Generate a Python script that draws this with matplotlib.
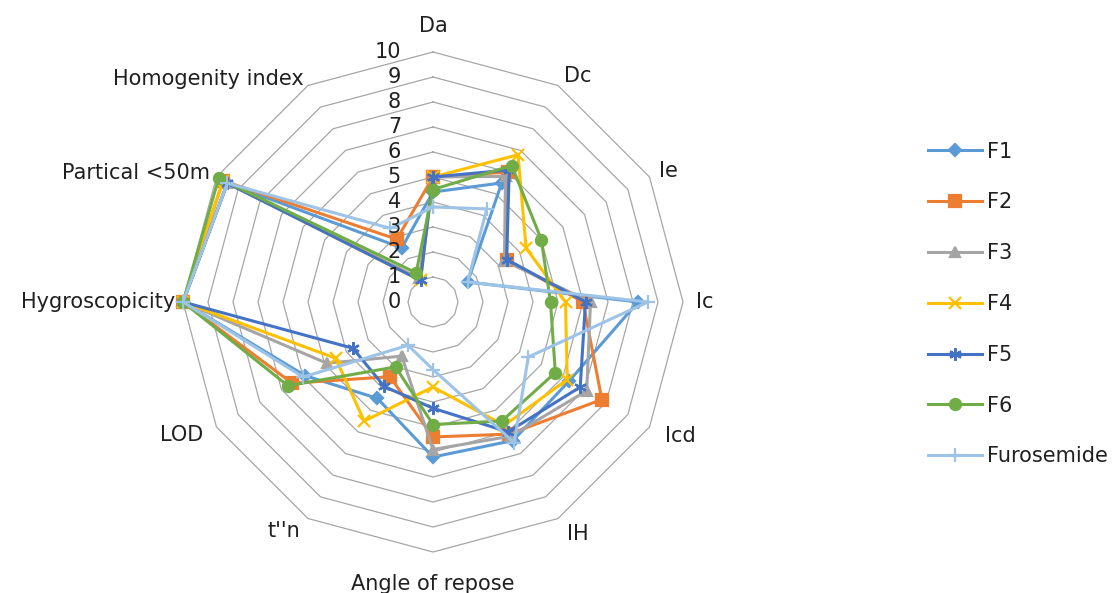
import numpy as np
import matplotlib
matplotlib.use("Agg")
import matplotlib.pyplot as plt

# ── Data ──────────────────────────────────────────────────────────────────────

CATEGORIES = ["Da", "Dc", "Ie", "Ic", "Icd", "IH", "Angle of repose", "t''n",
              "LOD", "Hygroscopicity", "Partical <50m", "Homogenity index"]

F1 = [4.4, 5.5, 1.6, 8.2, 6.3, 6.4, 6.2, 4.45, 5.9, 10, 9.5, 2.5]
F2 = [5.0, 6.0, 3.4, 6.0, 7.8, 6.1, 5.4, 3.45, 6.5, 10, 9.7, 2.9]
F3 = [5.0, 5.8, 3.3, 6.3, 7.1, 6.2, 5.9, 2.5, 4.9, 10, 9.5, 1.1]
F4 = [5.0, 6.8, 4.3, 5.3, 6.2, 5.7, 3.4, 5.5, 4.5, 10, 9.7, 1.0]
F5 = [5.0, 6.1, 3.4, 6.1, 6.8, 6.0, 4.25, 3.9, 3.7, 10, 9.5, 1.0]
F6 = [4.5, 6.3, 5.0, 4.7, 5.65, 5.5, 4.9, 3.0, 6.7, 10, 9.9, 1.35]
FUROSEMIDE = [3.8, 4.3, 1.6, 8.6, 4.4, 6.5, 2.7, 2.0, 6.0, 10, 9.5, 3.4]

SERIES_NAMES = ["F1", "F2", "F3", "F4", "F5", "F6", "Furosemide"]
RING_VALUES = list(range(0, 11))

# ── Style ─────────────────────────────────────────────────────────────────────

STYLE = {
    "F1":         {"color": "#5b9bd5", "marker": "D", "ms": 6},
    "F2":         {"color": "#ed7d31", "marker": "s", "ms": 8},
    "F3":         {"color": "#a5a5a5", "marker": "^", "ms": 7},
    "F4":         {"color": "#ffc000", "marker": "x", "ms": 9},
    "F5":         {"color": "#4472c4", "marker": (6, 2, 0), "ms": 9},
    "F6":         {"color": "#70ad47", "marker": "o", "ms": 8},
    "Furosemide": {"color": "#9dc3e6", "marker": "+", "ms": 10},
}

plt.rcParams["font.family"] = ["DejaVu Sans"]
FS = 15
TXT = "#202020"

W, H, DPI = 1114, 593, 100
CX, CY, RAD = 433, 302, 250   # centre and radius (px) of the 10-ring

fig = plt.figure(figsize=(W / DPI, H / DPI), dpi=DPI)
ax = fig.add_axes([(CX - RAD) / W, (H - CY - RAD) / H, 2 * RAD / W, 2 * RAD / H],
                  projection="polar")
ax.set_theta_zero_location("N")
ax.set_theta_direction(-1)
ax.set_ylim(0, 10)
ax.grid(False)
ax.set_xticks([])
ax.set_yticks([])
ax.spines["polar"].set_visible(False)
ax.patch.set_alpha(0)

n = len(CATEGORIES)
theta = np.arange(n) * 2 * np.pi / n
theta_c = np.append(theta, theta[0])

# polygon gridlines
for r in RING_VALUES[1:]:
    ax.plot(theta_c, [r] * (n + 1), color="#a6a6a6", lw=0.9, zorder=1,
            clip_on=False)

# series
data = dict(zip(SERIES_NAMES, [F1, F2, F3, F4, F5, F6, FUROSEMIDE]))
for name in SERIES_NAMES:
    s = STYLE[name]
    vals = data[name] + [data[name][0]]
    ax.plot(theta_c, vals, color=s["color"], lw=2.2, marker=s["marker"],
            ms=s["ms"], mew=1.6, mec=s["color"], mfc=s["color"],
            label=name, zorder=3, clip_on=False)

# radial value labels along the Da axis
for r in RING_VALUES:
    ax.annotate(str(r), xy=(0, r), xytext=(-23, 0), textcoords="offset points",
                ha="right", va="center", fontsize=FS, color=TXT)

# category labels
for t, lab in zip(theta, CATEGORIES):
    deg = np.degrees(t)
    if np.isclose(deg, 0):
        ax.text(t, 11.05, lab, ha="center", va="center", fontsize=FS, color=TXT)
    elif np.isclose(deg, 180):
        ax.text(t, 11.3, lab, ha="center", va="center", fontsize=FS, color=TXT)
    elif deg < 90:
        ax.text(t, 10.45, lab, ha="left", va="center", fontsize=FS, color=TXT)
    elif deg <= 90:
        ax.text(t, 10.5, lab, ha="left", va="center", fontsize=FS, color=TXT)
    elif deg < 180:
        ax.text(t, 10.7, lab, ha="left", va="center", fontsize=FS, color=TXT)
    elif deg < 270:
        ax.text(t, 10.6, lab, ha="right", va="center", fontsize=FS, color=TXT)
    else:
        ax.text(t, 10.3, lab, ha="right", va="center", fontsize=FS, color=TXT)

fig.legend(loc="center left", bbox_to_anchor=(928 / W, (H - 304) / H),
           frameon=False, fontsize=FS, handlelength=2.6, handletextpad=0.25,
           labelspacing=1.48, borderpad=0, borderaxespad=0,
           labelcolor=TXT)

fig.savefig("out.png", dpi=DPI)
